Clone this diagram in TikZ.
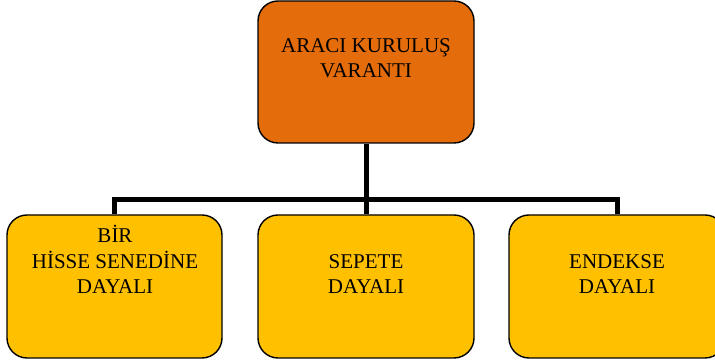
\documentclass[tikz,border=0pt]{standalone}
\usepackage{fontspec}
\setmainfont{Liberation Serif}
\definecolor{boxorange}{HTML}{E46C0A}
\definecolor{boxyellow}{HTML}{FFC000}
\begin{document}
\begin{tikzpicture}[x=1pt,y=1pt,
  card/.style={draw=black,line width=1.4pt,rounded corners=20pt,minimum width=216pt,minimum height=142pt,inner sep=0pt},
  label/.style={align=center,inner sep=0pt,font=\fontsize{21}{25.5}\selectfont},
  bus/.style={line width=5pt,draw=black}]
\useasboundingbox (0,0) rectangle (715,363);
\begin{scope}
\clip (0,0) rectangle (715,363);
\node[card,fill=boxorange] (top) at (366,291) {};
\node[card,fill=boxyellow,minimum width=215pt,minimum height=143pt] (left) at (114.5,76.5) {};
\node[card,fill=boxyellow,minimum height=143pt] (mid) at (366,76.5) {};
\node[card,fill=boxyellow,minimum height=143pt] (right) at (617,76.5) {};
\coordinate (junction) at (366,163);
\draw[bus] (top.south) -- (mid.north);
\draw[bus] (left.north) |- (junction) -| (right.north);
\node[label,anchor=north] (ttop) at (366,325) {ARACI KURULUŞ\\VARANTI};
\node[label,anchor=north] (tleft) at (115,138) {BİR\\HİSSE SENEDİNE\\DAYALI};
\node[label,anchor=north] (tmid) at (366,109) {SEPETE\\DAYALI};
\node[label,anchor=north] (tright) at (617,109) {ENDEKSE\\DAYALI};
\end{scope}
\end{tikzpicture}
\end{document}
